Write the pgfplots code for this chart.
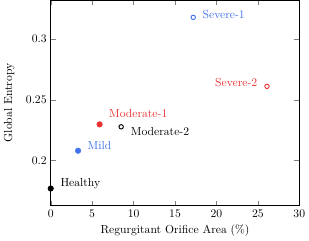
\documentclass[border=0pt]{standalone}
\usepackage{pgfplots}
\pgfplotsset{compat=1.18}
\definecolor{myred}{RGB}{235,50,50}
\definecolor{myblue}{RGB}{65,115,235}
\begin{document}
\begin{tikzpicture}
\begin{axis}[
  scale only axis,
  width=213bp, height=176bp,
  xmin=0, xmax=30,
  ymin=0.1629, ymax=0.3320,
  xtick={0,5,...,30},
  ytick={0.2,0.25,0.3},
  yticklabel style={/pgf/number format/fixed, /pgf/number format/precision=2},
  xlabel={Regurgitant Orifice Area (\%)},
  ylabel={Global Entropy},
  ylabel style={yshift=3bp},
  tick align=inside,
  clip=false,
]
\addplot[only marks, mark=*, mark size=2.4pt, black] coordinates {(0,0.177)};
\addplot[only marks, mark=*, mark size=2.4pt, myblue, mark options={fill=myblue}] coordinates {(3.3,0.2081)};
\addplot[only marks, mark=*, mark size=2.4pt, myred, mark options={fill=myred}] coordinates {(5.9,0.2298)};
\addplot[only marks, mark=o, mark size=1.9pt, thick, black] coordinates {(8.5,0.2278)};
\addplot[only marks, mark=o, mark size=1.9pt, thick, myblue] coordinates {(17.2,0.3179)};
\addplot[only marks, mark=o, mark size=1.9pt, thick, myred] coordinates {(26.1,0.2611)};
\node[anchor=west, text=black, inner sep=0pt] at ([shift={(8.2bp,4bp)}]axis cs:0,0.177) {Healthy};
\node[anchor=west, text=myblue, inner sep=0pt] at ([shift={(8bp,4.3bp)}]axis cs:3.3,0.2081) {Mild};
\node[anchor=west, text=myred, inner sep=0pt] at ([shift={(8bp,9bp)}]axis cs:5.9,0.2298) {Moderate-1};
\node[anchor=west, text=black, inner sep=0pt] at ([shift={(8.2bp,-4.3bp)}]axis cs:8.5,0.2278) {Moderate-2};
\node[anchor=west, text=myblue, inner sep=0pt] at ([shift={(7.9bp,2.8bp)}]axis cs:17.2,0.3179) {Severe-1};
\node[anchor=east, text=myred, inner sep=0pt] at ([shift={(-8.2bp,3.4bp)}]axis cs:26.1,0.2611) {Severe-2};
\end{axis}
\end{tikzpicture}
\end{document}
